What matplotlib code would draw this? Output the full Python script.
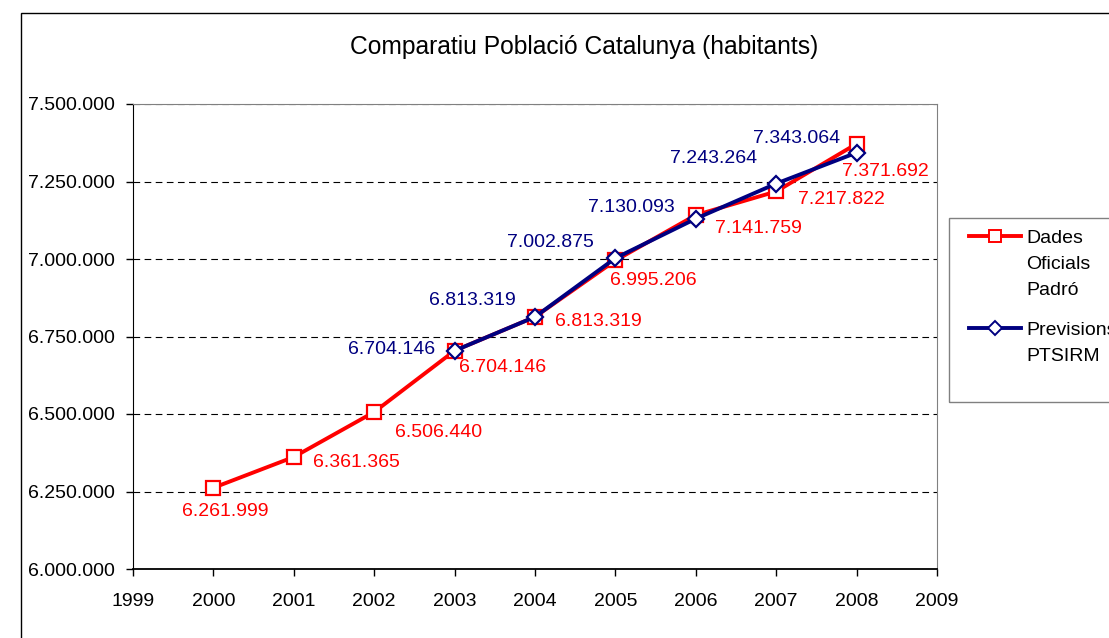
import matplotlib
matplotlib.use("Agg")
import matplotlib.pyplot as plt
from matplotlib.lines import Line2D
from matplotlib.patches import Rectangle
from matplotlib.ticker import FuncFormatter, MultipleLocator

plt.rcParams['font.family'] = ['Liberation Sans', 'DejaVu Sans']

# Padró oficial (2000-2008) i previsions PTSIRM (2003-2008)
years_padro = [2000, 2001, 2002, 2003, 2004, 2005, 2006, 2007, 2008]
padro = [6261999, 6361365, 6506440, 6704146, 6813319, 6995206, 7141759, 7217822, 7371692]
years_prev = [2003, 2004, 2005, 2006, 2007, 2008]
previsions = [6704146, 6813319, 7002875, 7130093, 7243264, 7343064]

# label offsets in pixels (dx, dy) from each point
padro_offsets = [(12, -24), (63, -6), (64, -20), (48, -17), (63, -5), (38, -20), (63, -13), (65, -8), (29, -28)]
prev_offsets = [(-63, 1), (-63, 16), (-65, 16), (-64, 11), (-63, 25), (-60, 14)]

RED = '#FF0000'
NAVY = '#000080'
FS = 14


def fmt(v):
    return f"{v:,.0f}".replace(',', '.')


fig = plt.figure(figsize=(11.09, 6.38), dpi=100)
ax = fig.add_axes([133 / 1109, 1 - 569 / 638, (937 - 133) / 1109, (569 - 104) / 638])

ax.plot(years_padro, padro, color=RED, lw=2.8, marker='s', markersize=10,
        markerfacecolor='white', markeredgecolor=RED, markeredgewidth=1.6, zorder=3)
ax.plot(years_prev, previsions, color=NAVY, lw=2.8, marker='D', markersize=8.5,
        markerfacecolor='white', markeredgecolor=NAVY, markeredgewidth=1.6, zorder=4)

for x, y, (dx, dy) in zip(years_padro, padro, padro_offsets):
    ax.annotate(fmt(y), (x, y), xytext=(dx, dy), textcoords='offset pixels',
                ha='center', va='center', color=RED, fontsize=FS, zorder=5)
for x, y, (dx, dy) in zip(years_prev, previsions, prev_offsets):
    ax.annotate(fmt(y), (x, y), xytext=(dx, dy), textcoords='offset pixels',
                ha='center', va='center', color=NAVY, fontsize=FS, zorder=5)

ax.set_xlim(1999, 2009)
ax.set_ylim(6000000, 7500000)
ax.xaxis.set_major_locator(MultipleLocator(1))
ax.yaxis.set_major_locator(MultipleLocator(250000))
ax.yaxis.set_major_formatter(FuncFormatter(lambda v, p: fmt(v)))
ax.tick_params(axis='both', direction='out', length=5, width=1, color='black',
               labelsize=FS)
ax.tick_params(axis='x', pad=12)
ax.tick_params(axis='y', pad=8)

ax.grid(axis='y', color='black', lw=0.8, linestyle=(0, (6, 4)))
ax.set_axisbelow(True)
ax.spines['left'].set_color('black')
ax.spines['bottom'].set_color('black')
ax.spines['bottom'].set_linewidth(1.3)
ax.spines['top'].set_color('#808080')
ax.spines['right'].set_color('#808080')

fig.text(584 / 1109, 1 - 47 / 638, 'Comparatiu Població Catalunya (habitants)',
         ha='center', va='center', fontsize=17.7)

# legend: one block per series, handle on the first line only
blank = Line2D([], [], linestyle='none')
red_handle = Line2D([], [], color=RED, lw=2.8, marker='s', markersize=8,
                    markerfacecolor='white', markeredgecolor=RED, markeredgewidth=1.4)
navy_handle = Line2D([], [], color=NAVY, lw=2.8, marker='D', markersize=7,
                     markerfacecolor='white', markeredgecolor=NAVY, markeredgewidth=1.4)
leg_kw = dict(loc='upper left', bbox_transform=fig.transFigure, frameon=False, fontsize=FS,
              handlelength=2.65, handletextpad=0.3, borderpad=0, borderaxespad=0,
              labelspacing=0.45, numpoints=1)
leg1 = ax.legend([red_handle, blank, blank], ['Dades', 'Oficials', 'Padró'],
                 bbox_to_anchor=(969 / 1109, 1 - 229 / 638), **leg_kw)
ax.add_artist(leg1)
ax.legend([navy_handle, blank], ['Previsions', 'PTSIRM'],
          bbox_to_anchor=(969 / 1109, 1 - 321 / 638), **leg_kw)

fig.add_artist(Rectangle((949 / 1109, 1 - 402 / 638), 0.3, (402 - 218) / 638,
                         transform=fig.transFigure, fill=False, edgecolor='#808080', lw=1))
# outer chart frame
fig.add_artist(Rectangle((21 / 1109, -0.5), 1.2, 0.5 + 1 - 13 / 638,
                         transform=fig.transFigure, fill=False, edgecolor='black', lw=1))

fig.savefig('out.png', dpi=100)
